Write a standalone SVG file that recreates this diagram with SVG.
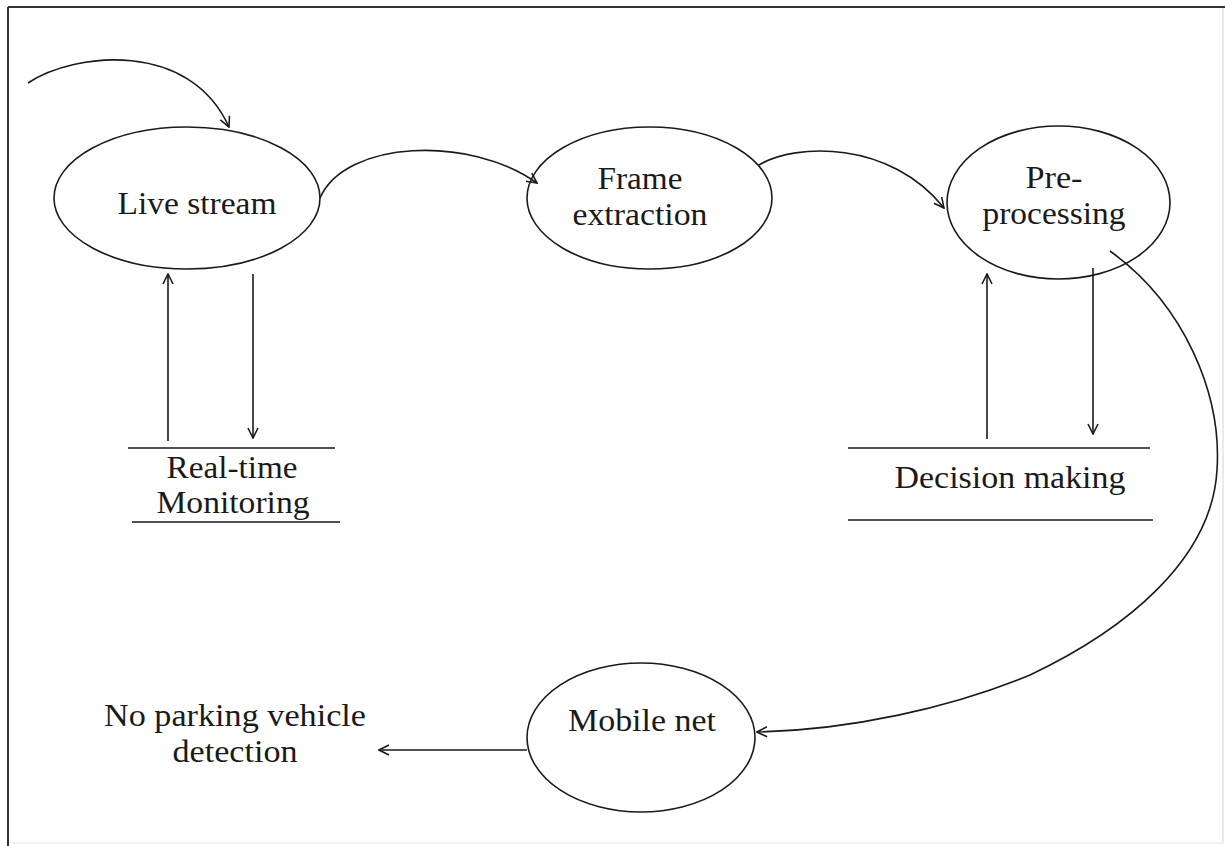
<svg xmlns="http://www.w3.org/2000/svg" width="1225" height="846" viewBox="0 0 1225 846">
  <style>
    .node { fill: #fff; stroke: #1a1a1a; stroke-width: 1.6; }
    .label { font-family: "Liberation Serif", "Times New Roman", Times, serif; font-size: 32px; fill: #1a1a1a; text-anchor: middle; }
    .edge { fill: none; stroke: #1a1a1a; stroke-width: 1.6; marker-end: url(#arrow); }
    .rule { stroke: #1a1a1a; stroke-width: 1.6; }
  </style>
  <defs>
    <marker id="arrow" viewBox="0 0 12 12" refX="11" refY="6" markerWidth="12" markerHeight="12" markerUnits="userSpaceOnUse" orient="auto">
      <path d="M1,1 L11,6 L1,11" fill="none" stroke="#1a1a1a" stroke-width="1.6"/>
    </marker>
  </defs>

  <rect width="1225" height="846" fill="#fff"/>

  <!-- frame -->
  <g id="frame">
    <line x1="1223" y1="7" x2="1223" y2="843" stroke="#e2e2e2" stroke-width="1.5"/>
    <line x1="8" y1="843" x2="1223" y2="843" stroke="#ececec" stroke-width="1.5"/>
    <line x1="8" y1="7" x2="1225" y2="7" stroke="#333" stroke-width="2"/>
    <line x1="8" y1="7" x2="8" y2="846" stroke="#333" stroke-width="2"/>
  </g>

  <g id="live-stream">
    <ellipse class="node" cx="187" cy="198" rx="133" ry="71"/>
    <text class="label" x="197" y="214" textLength="159" lengthAdjust="spacingAndGlyphs">Live stream</text>
  </g>

  <g id="frame-extraction">
    <ellipse class="node" cx="649.5" cy="198" rx="122.5" ry="71"/>
    <text class="label" x="640" y="189" textLength="85" lengthAdjust="spacingAndGlyphs">Frame</text>
    <text class="label" x="640" y="225" textLength="135" lengthAdjust="spacingAndGlyphs">extraction</text>
  </g>

  <g id="pre-processing">
    <ellipse class="node" cx="1058.5" cy="202.5" rx="111.5" ry="76.5"/>
    <text class="label" x="1054" y="188" textLength="57" lengthAdjust="spacingAndGlyphs">Pre-</text>
    <text class="label" x="1054" y="224" textLength="143" lengthAdjust="spacingAndGlyphs">processing</text>
  </g>

  <g id="real-time-monitoring">
    <line class="rule" x1="128" y1="448" x2="335" y2="448"/>
    <line class="rule" x1="132" y1="522" x2="340" y2="522"/>
    <text class="label" x="232" y="478" textLength="131" lengthAdjust="spacingAndGlyphs">Real-time</text>
    <text class="label" x="233" y="513" textLength="153" lengthAdjust="spacingAndGlyphs">Monitoring</text>
  </g>

  <g id="decision-making">
    <line class="rule" x1="848" y1="448" x2="1150" y2="448"/>
    <line class="rule" x1="848" y1="520" x2="1153" y2="520"/>
    <text class="label" x="1010" y="488" textLength="231" lengthAdjust="spacingAndGlyphs">Decision making</text>
  </g>

  <g id="mobile-net">
    <ellipse class="node" cx="641" cy="737.5" rx="114" ry="74.5"/>
    <text class="label" x="642" y="731" textLength="148" lengthAdjust="spacingAndGlyphs">Mobile net</text>
  </g>

  <g id="no-parking-detection">
    <text class="label" x="235" y="726" textLength="262" lengthAdjust="spacingAndGlyphs">No parking vehicle</text>
    <text class="label" x="235" y="762" textLength="125" lengthAdjust="spacingAndGlyphs">detection</text>
  </g>

  <!-- connectors, drawn over the nodes so lines that start inside an ellipse stay visible -->
  <g id="connectors">
    <path class="edge" d="M28,83 C75,52 190,40 229,127"/>
    <path class="edge" d="M320,198 C345,140 470,135 537,183"/>
    <path class="edge" d="M759,165 C795,143 890,140 944,208"/>
    <path class="edge" d="M168,441 L168,274"/>
    <path class="edge" d="M253,274 L253,438"/>
    <path class="edge" d="M987,439 L987,274"/>
    <path class="edge" d="M1093,268 L1093,434"/>
    <path class="edge" d="M1110,251 C1185,305 1222,395 1217,470 C1212,560 1125,630 1030,675 C950,708 850,730 757,732"/>
    <path class="edge" d="M527,750 L379,750"/>
  </g>
</svg>
